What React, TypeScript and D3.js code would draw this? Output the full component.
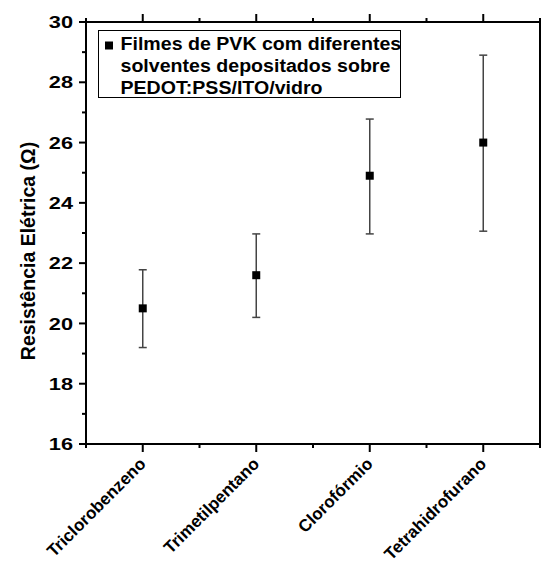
import * as d3 from "d3";

const solvents = ["Triclorobenzeno", "Trimetilpentano", "Clorofórmio", "Tetrahidrofurano"];
const resistance = [20.5, 21.6, 24.9, 26.0];
const errLow = [19.2, 20.2, 22.97, 23.06];
const errHigh = [21.78, 22.97, 26.78, 28.9];
const yTicks = [16, 18, 20, 22, 24, 26, 28, 30];
const legendLines = ["Filmes de PVK com diferentes", "solventes depositados sobre", "PEDOT:PSS/ITO/vidro"];

export default function App() {
  const width = 541;
  const height = 562;
  const left = 86, right = 540, top = 22, bottom = 444;
  const font = "'Liberation Sans', Arial, sans-serif";
  const sx = 1.12; // the original figure is a bit stretched horizontally

  const x = d3.scaleLinear().domain([0.5, 4.5]).range([left, right]);
  const y = d3.scaleLinear().domain([16, 30]).range([bottom, top]);
  const minorY = d3.range(17, 30, 2);
  const minorX = d3.range(0.5, 4.6, 1);

  return (
    <div style={{ position: "absolute", left: 0, top: 0 }}>
      <svg width={width} height={height} style={{ display: "block", background: "#fff" }}>
        {/* frame */}
        <rect x={left} y={top} width={right - left} height={bottom - top} fill="none" stroke="#000" strokeWidth={2} />

        {/* y ticks left */}
        {yTicks.map((t) => (
          <g key={t}>
            <line x1={left - 7} x2={left} y1={y(t)} y2={y(t)} stroke="#000" strokeWidth={2} />
            <text
              transform={`translate(${left - 13},${y(t)}) scale(1.28,1)`}
              dy="0.36em"
              textAnchor="end"
              fontFamily={font}
              fontWeight="bold"
              fontSize={17}
            >
              {t}
            </text>
          </g>
        ))}
        {minorY.map((t) => (
          <line key={t} x1={left - 4} x2={left} y1={y(t)} y2={y(t)} stroke="#000" strokeWidth={2} />
        ))}

        {/* x ticks bottom + top */}
        {solvents.map((s, i) => (
          <g key={s}>
            <line x1={x(i + 1)} x2={x(i + 1)} y1={bottom} y2={bottom + 8} stroke="#000" strokeWidth={2} />
            <line x1={x(i + 1)} x2={x(i + 1)} y1={top} y2={top - 8} stroke="#000" strokeWidth={2} />
          </g>
        ))}
        {minorX.map((t) => (
          <g key={t}>
            <line x1={x(t)} x2={x(t)} y1={bottom} y2={bottom + 4} stroke="#000" strokeWidth={2} />
            <line x1={x(t)} x2={x(t)} y1={top} y2={top - 4} stroke="#000" strokeWidth={2} />
          </g>
        ))}

        {/* x labels */}
        {solvents.map((s, i) => (
          <text
            key={s}
            transform={`translate(${x(i + 1) + 4},${bottom + 21}) rotate(-45)`}
            textAnchor="end"
            fontFamily={font}
            fontWeight="bold"
            fontSize={17}
          >
            {s}
          </text>
        ))}

        {/* y title */}
        <text
          transform="translate(35,251) rotate(-90)"
          textAnchor="middle"
          fontFamily={font}
          fontWeight="bold"
          fontSize={19.5}
        >
          Resistência Elétrica (Ω)
        </text>

        {/* error bars */}
        {solvents.map((s, i) => {
          const cx = x(i + 1);
          return (
            <g key={s} stroke="#444" strokeWidth={1.5}>
              <line x1={cx} x2={cx} y1={y(errLow[i])} y2={y(errHigh[i])} />
              <line x1={cx - 4} x2={cx + 4} y1={y(errLow[i])} y2={y(errLow[i])} />
              <line x1={cx - 4} x2={cx + 4} y1={y(errHigh[i])} y2={y(errHigh[i])} />
            </g>
          );
        })}
        {resistance.map((v, i) => (
          <rect key={i} x={x(i + 1) - 4} y={y(v) - 4} width={8} height={8} fill="#000" />
        ))}

        {/* legend */}
        <rect x={98.5} y={30.5} width={302} height={67} fill="#fff" stroke="#000" strokeWidth={1} />
        <rect x={105} y={41.5} width={8} height={8} fill="#000" />
        {legendLines.map((l, i) => (
          <text
            key={l}
            transform={`translate(120.5,${49.5 + i * 22}) scale(${sx},1)`}
            fontFamily={font}
            fontWeight="bold"
            fontSize={17.5}
          >
            {l}
          </text>
        ))}
      </svg>
    </div>
  );
}
